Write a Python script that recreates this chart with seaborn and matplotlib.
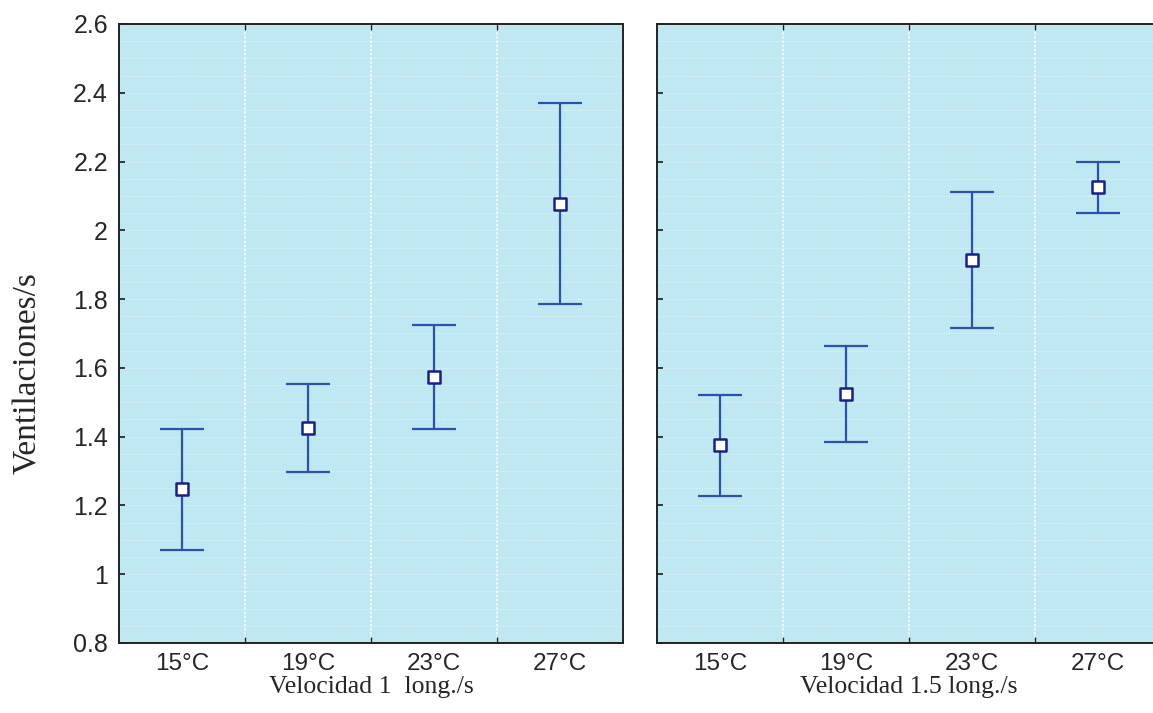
import numpy as np
import pandas as pd
import matplotlib
matplotlib.use("Agg")
import matplotlib.pyplot as plt
import seaborn as sns

# Temperatures and mean ventilation rate with interval bounds, per swimming speed
temperaturas = ["15°C", "19°C", "23°C", "27°C"]

media_v1 = [1.248, 1.426, 1.574, 2.077]
inf_v1 = [1.071, 1.298, 1.423, 1.786]
sup_v1 = [1.421, 1.553, 1.725, 2.370]

media_v15 = [1.376, 1.524, 1.914, 2.126]
inf_v15 = [1.228, 1.385, 1.716, 2.051]
sup_v15 = [1.521, 1.664, 2.112, 2.199]

etiquetas_x = ["Velocidad 1  long./s", "Velocidad 1.5 long./s"]
etiqueta_y = "Ventilaciones/s"
y_ticks = [0.8, 1.0, 1.2, 1.4, 1.6, 1.8, 2.0, 2.2, 2.4, 2.6]
y_tick_labels = ["0.8", "1", "1.2", "1.4", "1.6", "1.8", "2", "2.2", "2.4", "2.6"]

sns.set_theme(style="white")
plt.rcParams["font.family"] = ["Liberation Sans", "DejaVu Sans"]

fondo = "#bfe8f3"
color_barra = "#2d52ac"
color_borde = "#1c1f86"

fig = plt.figure(figsize=(11.53, 7.13), dpi=100)
ax1 = fig.add_axes([119 / 1153, 1 - 643 / 713, 504 / 1153, 619 / 713])
ax2 = fig.add_axes([657 / 1153, 1 - 643 / 713, 504 / 1153, 619 / 713])

paneles = [
    (ax1, media_v1, inf_v1, sup_v1, etiquetas_x[0]),
    (ax2, media_v15, inf_v15, sup_v15, etiquetas_x[1]),
]

for i, (ax, media, inf, sup, xlab) in enumerate(paneles):
    df = pd.DataFrame({"temp": temperaturas, "media": media,
                       "inf": inf, "sup": sup})
    df["pos"] = np.arange(len(temperaturas))
    ax.set_facecolor(fondo)

    # fine dotted background grid
    for yv in np.arange(0.8, 2.61, 0.05):
        ax.axhline(yv, color="white", lw=0.8, ls=(0, (1, 1.5)), alpha=0.55, zorder=0)
    for xv in [0.5, 1.5, 2.5]:
        ax.axvline(xv, color="white", lw=1.2, ls=(0, (1.5, 1)), alpha=0.85, zorder=0)

    err = np.vstack([df["media"] - df["inf"], df["sup"] - df["media"]])
    ax.errorbar(df["pos"], df["media"], yerr=err, fmt="none",
                ecolor=color_barra, elinewidth=1.6, capsize=16, capthick=1.6,
                zorder=2)
    sns.scatterplot(data=df, x="pos", y="media", ax=ax, marker="s", s=85,
                    color="white", edgecolor=color_borde, linewidth=1.8,
                    zorder=3, legend=False)

    ax.set_xlim(-0.5, 3.5)
    ax.set_ylim(0.8, 2.6)
    ax.set_xticks(np.arange(len(temperaturas)))
    ax.set_xticklabels(temperaturas, fontsize=17.5)
    ax.set_xticks([0.5, 1.5, 2.5], minor=True)
    ax.set_yticks(y_ticks)
    ax.tick_params(axis="x", which="major", length=0, pad=7)
    ax.tick_params(axis="x", which="minor", direction="in", length=4,
                   top=True, bottom=True, color="#222222")
    ax.tick_params(axis="y", direction="in", length=4, left=True,
                   color="#222222", pad=8)
    if i == 0:
        ax.set_yticklabels(y_tick_labels, fontsize=18)
        ax.set_ylabel(etiqueta_y, family=["Liberation Serif"], fontsize=24,
                      va="center")
        ax.yaxis.set_label_coords(-0.181, 0.436)
    else:
        ax.set_yticklabels([])
        ax.set_ylabel("")
    ax.set_xlabel(xlab, family=["Liberation Serif"], fontsize=18.5, labelpad=1)
    for s in ax.spines.values():
        s.set_color("#222222")
        s.set_linewidth(1.4)

fig.savefig("out.png", dpi=100, facecolor="white")
